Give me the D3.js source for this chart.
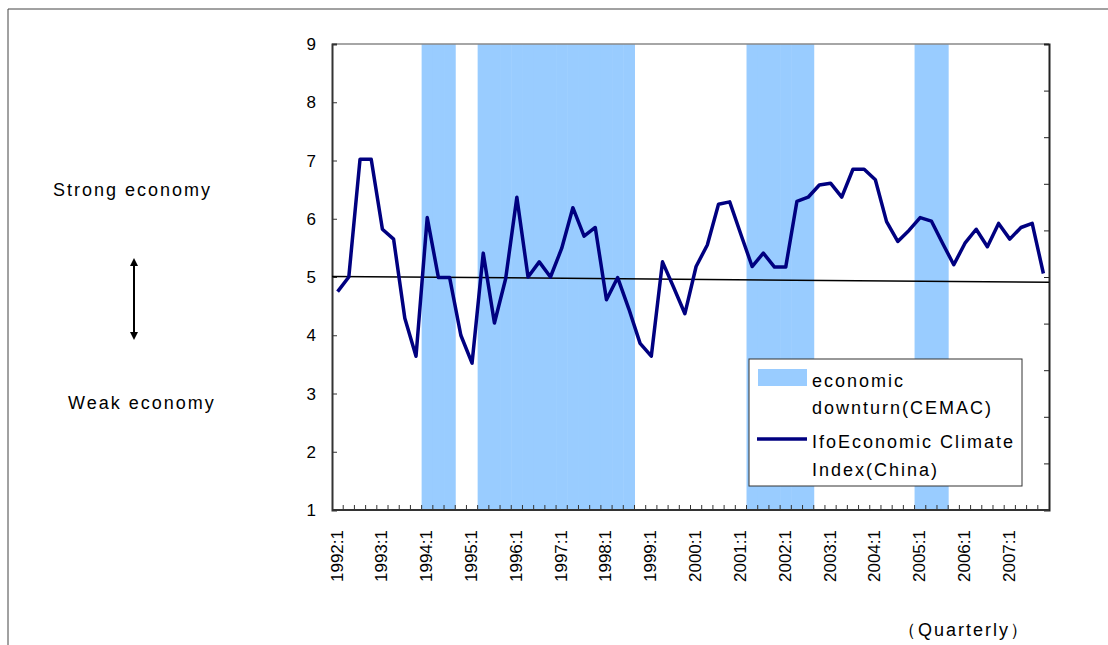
<!DOCTYPE html>
<html>
<head>
<meta charset="utf-8">
<script src="https://cdn.jsdelivr.net/npm/d3@7"></script>
<style>
  body { margin: 0; background: #fff; }
  text { font-family: "Liberation Sans", Arial, sans-serif; fill: #000; }
  .wide { font-size: 18px; letter-spacing: 2px; }
</style>
</head>
<body>
<svg id="chart"></svg>
<script>
// quarters 1992:1 .. 2007:4
const years = d3.range(1992, 2008);
const quarters = years.flatMap(y => [1, 2, 3, 4].map(q => y + ':' + q));

// Ifo economic climate index (China)
const ifoIndex = [
  4.75, 5.00, 7.02, 7.02, 5.82, 5.65, 4.29, 3.64,
  6.02, 4.99, 4.99, 4.00, 3.52, 5.41, 4.21, 4.97,
  6.37, 5.00, 5.26, 5.00, 5.49, 6.19, 5.70, 5.85,
  4.61, 4.99, 4.45, 3.86, 3.64, 5.26, 4.82, 4.37,
  5.18, 5.55, 6.25, 6.29, 5.73, 5.18, 5.41, 5.17,
  5.17, 6.30, 6.37, 6.58, 6.61, 6.37, 6.85, 6.85,
  6.67, 5.95, 5.61, 5.80, 6.02, 5.96, 5.58, 5.21,
  5.58, 5.82, 5.52, 5.92, 5.65, 5.85, 5.92, 5.06
];

// economic downturn (CEMAC) periods
const downturnStarts = ['1994:1', '1995:2', '2001:2', '2005:1'];
const downturnEnds   = ['1994:3', '1998:3', '2002:3', '2005:3'];

// linear trend, value at left and right edge
const trendValues = [5.01, 4.91];

const yTicks = [1, 2, 3, 4, 5, 6, 7, 8, 9];
const xLabels = quarters.filter(q => q.endsWith(':1'));

const width = 1108, height = 645;
const plotL = 332, plotR = 1049, plotT = 44, plotB = 510;

const svg = d3.select('#chart').attr('width', width).attr('height', height);

// outer frame (only top and left edges show)
svg.append('path')
  .attr('d', `M8,${height} V9 H${width}`)
  .attr('fill', 'none')
  .attr('stroke', '#444')
  .attr('stroke-width', 1);

const x = d3.scaleBand().domain(quarters).range([plotL, plotR]).padding(0);
const y = d3.scaleLinear().domain([1, 9]).range([plotB, plotT]);
const y2 = d3.scaleLinear().domain([0, 1]).range([plotB, plotT]);

// downturn flags per quarter
const downturn = quarters.map((q, i) =>
  downturnStarts.some((s, k) => i >= quarters.indexOf(s) && i <= quarters.indexOf(downturnEnds[k])) ? 1 : 0);

svg.append('g').selectAll('rect')
  .data(quarters.filter((q, i) => downturn[i]))
  .enter().append('rect')
  .attr('x', d => x(d))
  .attr('width', x.bandwidth() + 0.5)
  .attr('y', y2(1))
  .attr('height', y2(0) - y2(1))
  .attr('fill', '#99ccff');

// plot border top
svg.append('line')
  .attr('x1', plotL).attr('x2', plotR).attr('y1', plotT).attr('y2', plotT)
  .attr('stroke', '#888').attr('stroke-width', 1.5);

// left axis
const yAxis = svg.append('g').attr('transform', `translate(${plotL},0)`)
  .call(d3.axisRight(y).tickValues(yTicks).tickSize(5).tickFormat(''));
yAxis.select('.domain').attr('stroke', '#333').attr('stroke-width', 2);
yAxis.selectAll('.tick line').attr('stroke', '#333');

svg.append('g').selectAll('text')
  .data(yTicks)
  .enter().append('text')
  .attr('x', 316)
  .attr('y', d => y(d) + 6)
  .attr('text-anchor', 'end')
  .style('font-size', '17px')
  .text(d => d);

// right axis (secondary, 0..1, no labels)
const y2Axis = svg.append('g').attr('transform', `translate(${plotR},0)`)
  .call(d3.axisLeft(y2).ticks(10).tickSize(5).tickFormat(''));
y2Axis.select('.domain').attr('stroke', '#222').attr('stroke-width', 2);
y2Axis.selectAll('.tick line').attr('stroke', '#222');

// bottom axis, ticks between quarters
const bx = svg.append('g').attr('transform', `translate(0,${plotB})`);
bx.append('line').attr('x1', plotL).attr('x2', plotR).attr('stroke', '#333').attr('stroke-width', 2);
bx.selectAll('line.qt')
  .data(quarters.slice(1))
  .enter().append('line')
  .attr('class', 'qt')
  .attr('x1', d => x(d)).attr('x2', d => x(d))
  .attr('y1', 0).attr('y2', -5)
  .attr('stroke', '#333');

// x labels, rotated
svg.append('g').selectAll('text')
  .data(xLabels)
  .enter().append('text')
  .attr('transform', d => `translate(${x(d) + x.bandwidth() / 2 + 5},530) rotate(-90)`)
  .attr('text-anchor', 'end')
  .style('font-size', '17px')
  .text(d => d);

// trend line
svg.append('line')
  .attr('x1', plotL).attr('x2', plotR)
  .attr('y1', y(trendValues[0])).attr('y2', y(trendValues[1]))
  .attr('stroke', '#000').attr('stroke-width', 1.5);

// index line
const line = d3.line()
  .x((d, i) => x(quarters[i]) + x.bandwidth() / 2)
  .y(d => y(d));

svg.append('path')
  .datum(ifoIndex)
  .attr('d', line)
  .attr('fill', 'none')
  .attr('stroke', '#000080')
  .attr('stroke-width', 3.5)
  .attr('stroke-linejoin', 'round');

// legend
const lg = svg.append('g');
lg.append('rect')
  .attr('x', 749).attr('y', 359).attr('width', 273).attr('height', 127)
  .attr('fill', '#fff').attr('stroke', '#333').attr('stroke-width', 1);
lg.append('rect')
  .attr('x', 758).attr('y', 369).attr('width', 49).attr('height', 17)
  .attr('fill', '#99ccff');
lg.append('line')
  .attr('x1', 757).attr('x2', 807).attr('y1', 439).attr('y2', 439)
  .attr('stroke', '#000080').attr('stroke-width', 3.5);
[['economic', 387], ['downturn(CEMAC)', 414], ['IfoEconomic Climate', 448], ['Index(China)', 476]]
  .forEach(([t, yy]) => {
    lg.append('text').attr('class', 'wide').attr('x', 812).attr('y', yy).text(t);
  });

// side annotations
svg.append('text').attr('class', 'wide').attr('x', 53).attr('y', 196).text('Strong economy');
svg.append('text').attr('class', 'wide').attr('x', 68).attr('y', 409).text('Weak economy');

svg.append('defs').append('marker')
  .attr('id', 'ah').attr('viewBox', '0 0 10 10')
  .attr('refX', 5).attr('refY', 5)
  .attr('markerWidth', 4).attr('markerHeight', 4)
  .attr('orient', 'auto-start-reverse')
  .append('path').attr('d', 'M0,0 L10,5 L0,10 Z').attr('fill', '#000');

svg.append('line')
  .attr('x1', 134).attr('x2', 134).attr('y1', 262).attr('y2', 336)
  .attr('stroke', '#000').attr('stroke-width', 2)
  .attr('marker-start', 'url(#ah)').attr('marker-end', 'url(#ah)');

svg.append('text').attr('class', 'wide').attr('x', 898).attr('y', 636).text('（Quarterly）');
</script>
</body>
</html>
